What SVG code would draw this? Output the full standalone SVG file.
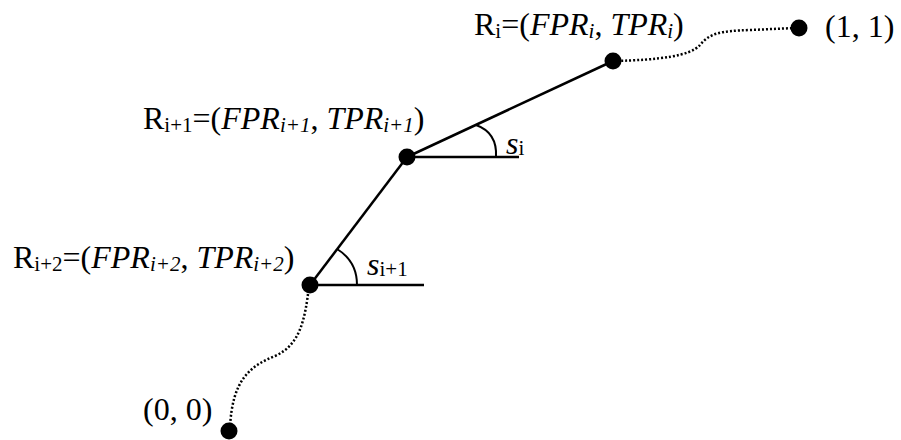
<svg xmlns="http://www.w3.org/2000/svg" width="901" height="440" viewBox="0 0 901 440">
<style>
text{font-family:"Liberation Serif","Times New Roman",serif;font-size:32px;fill:#000}
.it{font-style:italic}
.sub{font-size:21px}
.seg{stroke:#000;stroke-width:2.5;fill:none}
.dot{stroke:#000;stroke-width:2.5;stroke-dasharray:2 2;fill:none}
.arc{stroke:#000;stroke-width:2;fill:none}
</style>
<rect width="901" height="440" fill="#fff"/>
<g id="connectors">
<line class="seg" x1="310" y1="285" x2="407" y2="157"/>
<line class="seg" x1="407" y1="157" x2="613" y2="61"/>
<line class="seg" x1="407" y1="157" x2="519" y2="157"/>
<line class="seg" x1="310" y1="285" x2="424" y2="285"/>
<path class="arc" d="M476,125 C490,130 497,140 496,157"/>
<path class="arc" d="M337,249 C350,257 357,268 357,285"/>
<path class="dot" d="M613,61 C660,60 690,56 700,45 C710,33 720,31 750,30 L795,28"/>
<path class="dot" d="M309,286 C305,320 300,345 275,356 C250,366 232,380 230,428"/>
</g>
<g id="origin">
<circle cx="229" cy="431" r="8.5"/>
<text x="143" y="420">(0, 0)</text>
</g>
<g id="Ri2">
<circle cx="310" cy="285" r="8.5"/>
<text x="13" y="268">R<tspan class="sub" dy="3">i+2</tspan><tspan dy="-3">=(</tspan><tspan class="it">FPR</tspan><tspan class="sub it" dy="3">i+2</tspan><tspan dy="-3">, </tspan><tspan class="it">TPR</tspan><tspan class="sub it" dy="3">i+2</tspan><tspan dy="-3">)</tspan></text>
<text x="367" y="275"><tspan class="it">s</tspan><tspan class="sub" dy="1">i+1</tspan></text>
</g>
<g id="Ri1">
<circle cx="407" cy="157" r="8.5"/>
<text x="143" y="129">R<tspan class="sub" dy="3">i+1</tspan><tspan dy="-3">=(</tspan><tspan class="it">FPR</tspan><tspan class="sub it" dy="3">i+1</tspan><tspan dy="-3">, </tspan><tspan class="it">TPR</tspan><tspan class="sub it" dy="3">i+1</tspan><tspan dy="-3">)</tspan></text>
<text x="506" y="154"><tspan class="it">s</tspan><tspan class="sub" dy="1">i</tspan></text>
</g>
<g id="Ri">
<circle cx="613" cy="61" r="8.5"/>
<text x="474" y="35">R<tspan class="sub" dy="3">i</tspan><tspan dy="-3">=(</tspan><tspan class="it">FPR</tspan><tspan class="sub it" dy="3">i</tspan><tspan dy="-3">, </tspan><tspan class="it">TPR</tspan><tspan class="sub it" dy="3">i</tspan><tspan dy="-3">)</tspan></text>
</g>
<g id="one">
<circle cx="799" cy="28" r="8.5"/>
<text x="825" y="37">(1, 1)</text>
</g>
</svg>
